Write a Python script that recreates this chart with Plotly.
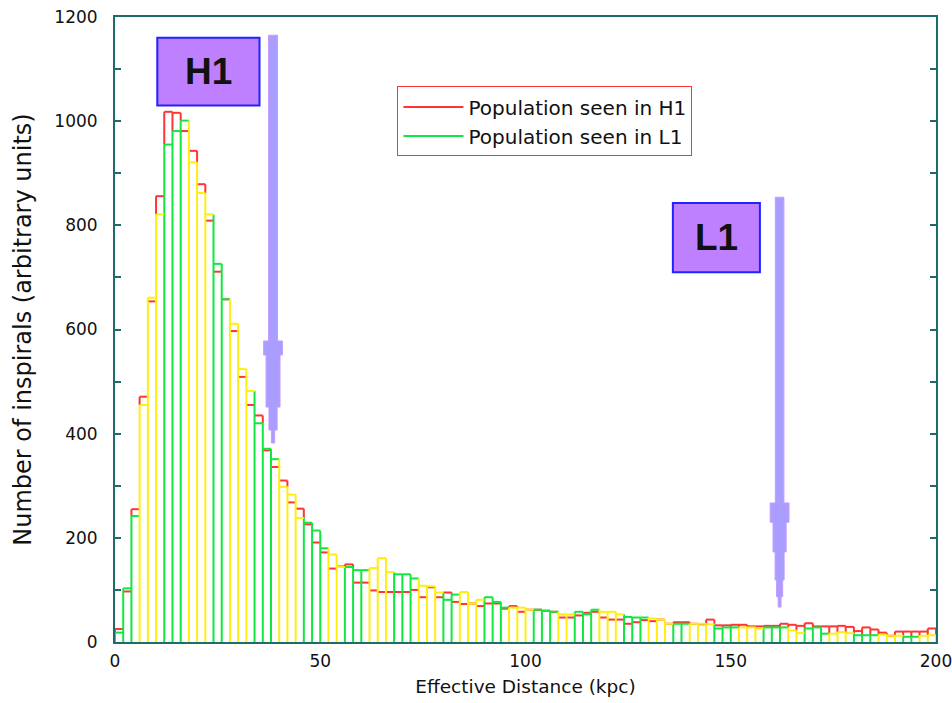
import numpy as np
import plotly.graph_objects as go

# Effective-distance histogram, 2 kpc bins from 0 to 200 kpc
BIN_WIDTH = 2
bin_edges = np.arange(0, 200 + BIN_WIDTH, BIN_WIDTH)

pop_h1 = [25, 97, 255, 471, 654, 856, 1018, 1016, 981, 943,
          879, 809, 711, 658, 597, 509, 455, 435, 368, 336,
          310, 268, 256, 226, 191, 172, 141, 145, 149, 114,
          114, 99, 96, 96, 96, 96, 100, 86, 105, 86,
          95, 77, 73, 74, 69, 74, 74, 64, 69, 58,
          62, 62, 60, 58, 47, 47, 51, 56, 58, 47,
          43, 43, 35, 38, 42, 40, 43, 35, 38, 38,
          35, 34, 43, 32, 32, 33, 33, 30, 30, 31,
          31, 35, 33, 31, 36, 30, 30, 30, 31, 29,
          21, 28, 24, 18, 12, 20, 20, 20, 20, 26]

pop_l1 = [18, 103, 242, 455, 661, 821, 955, 981, 1001, 921,
          862, 821, 726, 658, 611, 524, 482, 420, 371, 351,
          298, 283, 238, 229, 214, 180, 168, 144, 144, 138,
          138, 142, 161, 134, 130, 130, 122, 108, 107, 95,
          81, 91, 96, 74, 81, 86, 77, 66, 66, 66,
          62, 62, 60, 58, 53, 53, 58, 53, 62, 58,
          58, 53, 48, 47, 47, 45, 43, 35, 35, 35,
          35, 35, 34, 26, 28, 28, 28, 28, 26, 28,
          28, 28, 22, 17, 26, 28, 16, 16, 19, 17,
          13, 13, 13, 14, 12, 12, 10, 10, 12, 13]

x_ticks = [0, 50, 100, 150, 200]
y_ticks = [0, 200, 400, 600, 800, 1000, 1200]

# horizon distances marked by the arrows (kpc)
h1_range = 38.5
l1_range = 161.9

RED = "#ff3535"
GREEN = "#10e840"
YELLOW = "#ffee10"
AXIS = "#1f6a6a"
FONT = "DejaVu Sans"


def edge_heights(values):
    """Height of the outline at each bin edge (taller of the two neighbours)."""
    padded = np.concatenate([[0.0], np.asarray(values, float), [0.0]])
    return np.maximum(padded[:-1], padded[1:])


def outline(values, edge_sel, top_sel, base=None):
    """Bar outlines: verticals at the bin edges (from base up) and the flat top of each bin."""
    v = np.asarray(values, float)
    tops = edge_heights(v)
    lows = np.zeros_like(tops) if base is None else base
    xs, ys = [], []
    for j, e in enumerate(bin_edges):
        if edge_sel[j] and tops[j] > lows[j]:
            xs += [e, e, None]
            ys += [lows[j], tops[j], None]
    for k in range(len(v)):
        if top_sel[k]:
            xs += [bin_edges[k], bin_edges[k + 1], None]
            ys += [v[k], v[k], None]
    return xs, ys


n_edges = len(bin_edges)
n_bins = n_edges - 1
all_edges = np.ones(n_edges, bool)
all_bins = np.ones(n_bins, bool)

# where the two outlines coincide they blend to yellow, in runs of a few bins
blend = (np.floor(np.arange(n_edges) / 2.8) % 2) == 1
blend_tops = blend[:-1]

fig = go.Figure()

# H1 verticals only show where they rise above the L1 outline
hx, hy = outline(pop_h1, all_edges, all_bins, base=edge_heights(pop_l1))
fig.add_trace(go.Scatter(x=hx, y=hy, mode="lines", name="Population seen in H1",
                         line=dict(color=RED, width=2), legendgroup="h1",
                         hoverinfo="skip"))

gx, gy = outline(pop_l1, ~blend, ~blend_tops)
fig.add_trace(go.Scatter(x=gx, y=gy, mode="lines", name="Population seen in L1",
                         line=dict(color=GREEN, width=2), legendgroup="l1",
                         hoverinfo="skip"))

yx, yy = outline(pop_l1, blend, blend_tops)
fig.add_trace(go.Scatter(x=yx, y=yy, mode="lines", showlegend=False,
                         line=dict(color=YELLOW, width=2), hoverinfo="skip"))


def arrow_path(xc, top, steps):
    """Tapered arrow: a shaft then a stepped head; steps = [(half_width, y_bottom), ...]."""
    shaft_half, head = steps[0], steps[1:]
    pts_r = [(xc + shaft_half[0], top), (xc + shaft_half[0], shaft_half[1])]
    for hw, yb in head:
        pts_r.append((xc + hw, pts_r[-1][1]))
        pts_r.append((xc + hw, yb))
    tip = (xc, pts_r[-1][1])
    pts_l = [(2 * xc - px, py) for px, py in reversed(pts_r)]
    pts = pts_r + [tip] + pts_l
    return "M " + " L ".join(f"{px:.3f},{py:.1f}" for px, py in pts) + " Z"


ARROW_FILL = "#a99dff"
ARROW_EDGE = "#c79cff"

fig.add_shape(type="path", xref="x", yref="y",
              path=arrow_path(h1_range, 1165,
                              [(1.1, 578), (2.3, 551), (1.7, 451), (1.0, 407), (0.4, 382)]),
              fillcolor=ARROW_FILL, line=dict(color=ARROW_EDGE, width=1), layer="above")
fig.add_shape(type="path", xref="x", yref="y",
              path=arrow_path(l1_range, 854,
                              [(1.05, 267), (2.3, 230), (1.6, 173), (1.1, 119), (0.75, 87), (0.35, 67)]),
              fillcolor=ARROW_FILL, line=dict(color=ARROW_EDGE, width=1), layer="above")

BOX_FILL = "#bf80ff"
BOX_EDGE = "#2222ff"
for label, x0, x1, y0, y1 in [("H1", 10.3, 35.2, 1030, 1160), ("L1", 135.9, 157.1, 710, 843)]:
    fig.add_shape(type="rect", xref="x", yref="y", x0=x0, x1=x1, y0=y0, y1=y1,
                  fillcolor=BOX_FILL, line=dict(color=BOX_EDGE, width=2), layer="above")
    fig.add_annotation(x=(x0 + x1) / 2, y=(y0 + y1) / 2, xref="x", yref="y",
                       text=f"<b>{label}</b>", showarrow=False,
                       font=dict(family="Liberation Sans", size=37, color="#111111"))

fig.update_layout(
    width=952, height=703,
    margin=dict(l=115, r=16, t=17, b=61),
    paper_bgcolor="white", plot_bgcolor="white",
    font=dict(family=FONT, size=17, color="#111111"),
    showlegend=True,
    legend=dict(x=0.344, y=0.889, xanchor="left", yanchor="top",
                bordercolor=RED, borderwidth=1, bgcolor="white",
                font=dict(family=FONT, size=20, color="#111111"),
                tracegroupgap=0, itemwidth=60),
)

fig.update_xaxes(range=[0, 200], tickvals=x_ticks, ticks="", showgrid=False,
                 zeroline=False, showline=True, linecolor=AXIS, linewidth=2,
                 mirror=True, ticklabelstandoff=3, ticklabeloverflow="allow",
                 automargin=False,
                 title=dict(text="Effective Distance (kpc)", font=dict(size=18.5), standoff=10))
fig.update_yaxes(range=[0, 1200], tickvals=y_ticks, ticks="inside", ticklen=6,
                 tickcolor=AXIS, tickwidth=2, showgrid=False, zeroline=False,
                 showline=True, linecolor=AXIS, linewidth=2, mirror="ticks",
                 ticklabelstandoff=12, automargin=False,
                 minor=dict(dtick=100, ticks="inside", ticklen=6, tickcolor=AXIS, tickwidth=2),
                 title=dict(text="Number of inspirals (arbitrary units)", font=dict(size=24),
                            standoff=16))

fig.write_html("out.html")
